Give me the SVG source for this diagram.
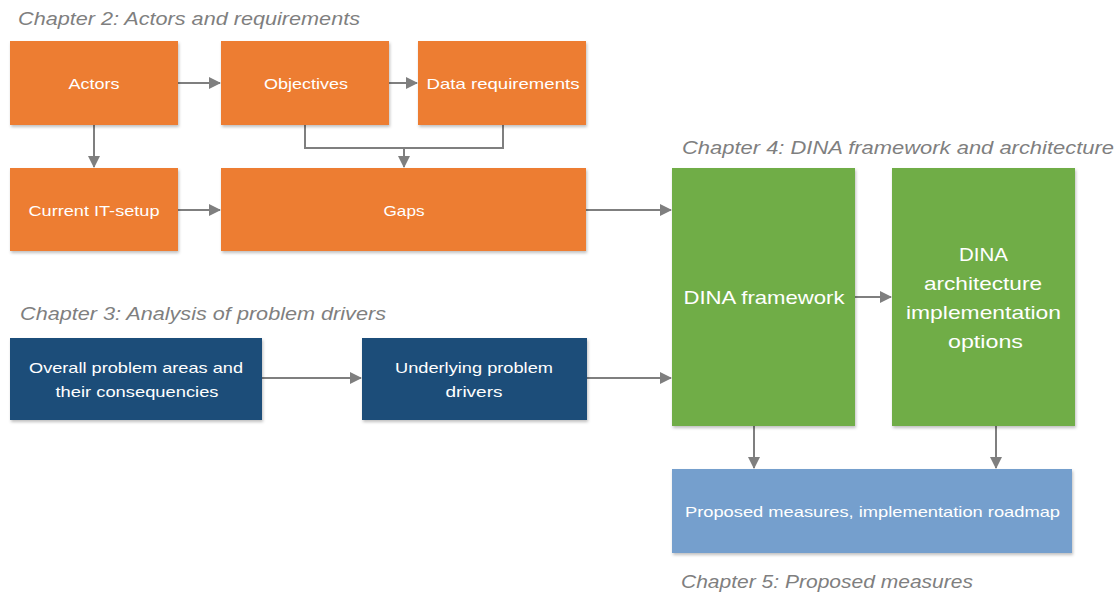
<svg xmlns="http://www.w3.org/2000/svg" width="1120" height="593" viewBox="0 0 1120 593">
<defs>
<marker id="ah" markerWidth="12" markerHeight="12" refX="11" refY="6" orient="auto" markerUnits="userSpaceOnUse">
<path d="M0,0 L12,6 L0,12 Z" fill="#7f7f7f"/>
</marker>
<filter id="sh" x="-5%" y="-5%" width="112%" height="115%">
<feDropShadow dx="1" dy="2" stdDeviation="1.5" flood-color="#000" flood-opacity="0.25"/>
</filter>
<style>
.orange{fill:#ed7d31;filter:url(#sh)}
.navy{fill:#1f4e79;filter:url(#sh)}
.green{fill:#70ad47;filter:url(#sh)}
.lblue{fill:#749fcd;filter:url(#sh)}
.t{font-family:"Liberation Sans",Arial,sans-serif;fill:#ffffff;text-anchor:middle;dominant-baseline:central}
.s15{font-size:15px}
.s19{font-size:19px}
.ch{font-family:"Liberation Sans",Arial,sans-serif;font-style:italic;font-size:19px;fill:#7f7f7f;dominant-baseline:central}
.c{fill:none;stroke:#7f7f7f;stroke-width:2}
</style>
</defs>
<g id="labels">
<text class="ch" x="18" y="18" textLength="342" lengthAdjust="spacingAndGlyphs">Chapter 2: Actors and requirements</text>
<text class="ch" x="20" y="313" textLength="366" lengthAdjust="spacingAndGlyphs">Chapter 3: Analysis of problem drivers</text>
<text class="ch" x="682" y="147" textLength="432" lengthAdjust="spacingAndGlyphs">Chapter 4: DINA framework and architecture</text>
<text class="ch" x="681" y="581" textLength="292" lengthAdjust="spacingAndGlyphs">Chapter 5: Proposed measures</text>
</g>
<g id="connectors">
<line class="c" x1="178" y1="83" x2="220" y2="83" marker-end="url(#ah)"/>
<line class="c" x1="389" y1="83" x2="417" y2="83" marker-end="url(#ah)"/>
<line class="c" x1="94" y1="125" x2="94" y2="167" marker-end="url(#ah)"/>
<polyline class="c" points="305,125 305,148 503,148 503,125"/>
<line class="c" x1="404" y1="148" x2="404" y2="167" marker-end="url(#ah)"/>
<line class="c" x1="178" y1="210" x2="220" y2="210" marker-end="url(#ah)"/>
<line class="c" x1="586" y1="210" x2="671" y2="210" marker-end="url(#ah)"/>
<line class="c" x1="262" y1="378" x2="361" y2="378" marker-end="url(#ah)"/>
<line class="c" x1="587" y1="378" x2="671" y2="378" marker-end="url(#ah)"/>
<line class="c" x1="855" y1="297" x2="891" y2="297" marker-end="url(#ah)"/>
<line class="c" x1="754" y1="426" x2="754" y2="468" marker-end="url(#ah)"/>
<line class="c" x1="996" y1="426" x2="996" y2="468" marker-end="url(#ah)"/>
</g>
<g id="actors">
<rect class="orange" x="10" y="41" width="168" height="84"/>
<text class="t s15" x="94" y="83" textLength="51" lengthAdjust="spacingAndGlyphs">Actors</text>
</g>
<g id="objectives">
<rect class="orange" x="221" y="41" width="168" height="84"/>
<text class="t s15" x="306" y="83" textLength="84" lengthAdjust="spacingAndGlyphs">Objectives</text>
</g>
<g id="data-requirements">
<rect class="orange" x="418" y="41" width="168" height="84"/>
<text class="t s15" x="503" y="83" textLength="153" lengthAdjust="spacingAndGlyphs">Data requirements</text>
</g>
<g id="current-it-setup">
<rect class="orange" x="10" y="168" width="168" height="83"/>
<text class="t s15" x="94" y="210" textLength="131" lengthAdjust="spacingAndGlyphs">Current IT-setup</text>
</g>
<g id="gaps">
<rect class="orange" x="221" y="168" width="365" height="83"/>
<text class="t s15" x="404" y="210" textLength="41" lengthAdjust="spacingAndGlyphs">Gaps</text>
</g>
<g id="overall-problem-areas">
<rect class="navy" x="10" y="338" width="252" height="82"/>
<text class="t s15" x="136" y="367" textLength="214" lengthAdjust="spacingAndGlyphs">Overall problem areas and</text>
<text class="t s15" x="137" y="391" textLength="163" lengthAdjust="spacingAndGlyphs">their consequencies</text>
</g>
<g id="underlying-problem-drivers">
<rect class="navy" x="362" y="338" width="225" height="82"/>
<text class="t s15" x="474" y="367" textLength="158" lengthAdjust="spacingAndGlyphs">Underlying problem</text>
<text class="t s15" x="474" y="391" textLength="57" lengthAdjust="spacingAndGlyphs">drivers</text>
</g>
<g id="dina-framework">
<rect class="green" x="672" y="168" width="183" height="258"/>
<text class="t s19" x="764" y="297" textLength="161" lengthAdjust="spacingAndGlyphs">DINA framework</text>
</g>
<g id="dina-architecture">
<rect class="green" x="892" y="168" width="183" height="258"/>
<text class="t s19" x="983.5" y="254" textLength="49" lengthAdjust="spacingAndGlyphs">DINA</text>
<text class="t s19" x="983" y="283" textLength="118" lengthAdjust="spacingAndGlyphs">architecture</text>
<text class="t s19" x="983.5" y="312" textLength="155" lengthAdjust="spacingAndGlyphs">implementation</text>
<text class="t s19" x="985.5" y="341" textLength="75" lengthAdjust="spacingAndGlyphs">options</text>
</g>
<g id="proposed-measures">
<rect class="lblue" x="672" y="469" width="400" height="84"/>
<text class="t s15" x="872.5" y="511" textLength="375" lengthAdjust="spacingAndGlyphs">Proposed measures, implementation roadmap</text>
</g>
</svg>
